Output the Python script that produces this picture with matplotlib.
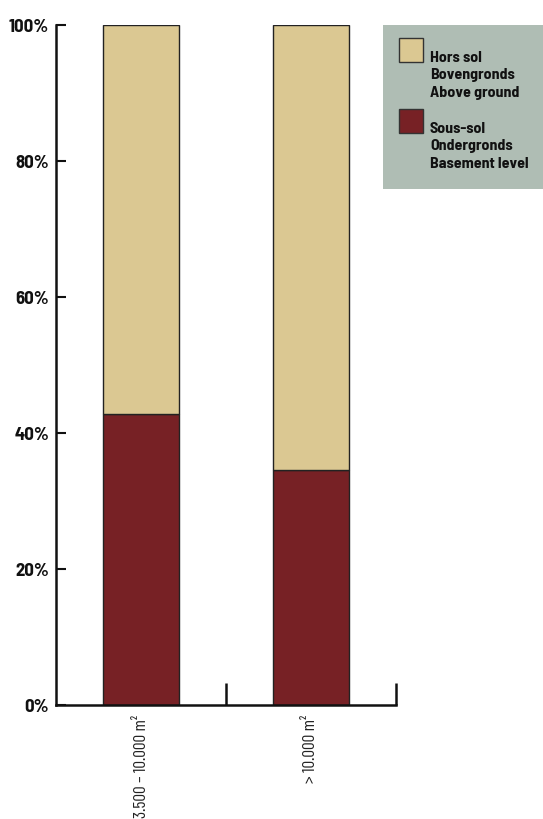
import matplotlib
matplotlib.use("Agg")
import matplotlib.pyplot as plt
from matplotlib.patches import Rectangle

categories = ["3.500 – 10.000 m²", "> 10.000 m²"]
basement = [42.8, 34.6]          # Sous-sol / Ondergronds / Basement level (%)
above = [100 - v for v in basement]  # Hors sol / Bovengronds / Above ground (%)
yticks = [0, 20, 40, 60, 80, 100]
ytick_labels = ["0%", "20%", "40%", "60%", "80%", "100%"]
legend_labels = ["Hors sol\nBovengronds\nAbove ground",
                 "Sous-sol\nOndergronds\nBasement level"]

c_above = "#dbc892"
c_base = "#772125"
c_legend_bg = "#afbdb4"
font_bold = ["Barlow Semi Condensed", "DejaVu Sans"]
font_light = ["Barlow Condensed", "DejaVu Sans"]

fig = plt.figure(figsize=(5.43, 8.19), dpi=100)
ax = fig.add_axes([56 / 543, 1 - 705 / 819, 340 / 543, 680 / 819])

pos = [0.5, 1.5]
ax.bar(pos, basement, width=0.45, color=c_base, edgecolor="#222222", linewidth=1.0, zorder=2)
ax.bar(pos, above, bottom=basement, width=0.45, color=c_above, edgecolor="#222222",
       linewidth=1.0, zorder=2)

ax.set_xlim(0, 2)
ax.set_ylim(0, 100)
for s in ["top", "right"]:
    ax.spines[s].set_visible(False)
for s in ["left", "bottom"]:
    ax.spines[s].set_linewidth(1.8)
    ax.spines[s].set_color("#111111")

ax.set_yticks(yticks)
ax.set_yticklabels(ytick_labels, fontfamily=font_bold, fontweight="bold", fontsize=13.5)
ax.tick_params(axis="y", direction="in", length=7, width=1.5, pad=5, colors="#111111")

# Upward group separators on the x axis
ax.set_xticks([1, 2])
ax.set_xticklabels([])
ax.tick_params(axis="x", direction="in", length=16, width=1.8, colors="#111111")

for x, lab in zip(pos, categories):
    ax.text(x, -1.5, lab, rotation=90, ha="center", va="top",
            fontfamily=font_light, fontweight="normal", fontsize=12.5, color="#222222")

# Legend panel
fig.patches.append(Rectangle((383 / 543, 1 - 189 / 819), 160 / 543, 164 / 819,
                             transform=fig.transFigure, facecolor=c_legend_bg,
                             edgecolor="none", zorder=0))
sq_tops = [38, 109]
for top, col, lab in zip(sq_tops, [c_above, c_base], legend_labels):
    fig.patches.append(Rectangle((399 / 543, 1 - (top + 24) / 819), 24 / 543, 24 / 819,
                                 transform=fig.transFigure, facecolor=col,
                                 edgecolor="#333333", linewidth=1.0))
    fig.text(430 / 543, 1 - (top + 13) / 819, lab, ha="left", va="top",
             fontfamily=font_bold, fontweight="bold", fontsize=11.5,
             linespacing=1.3, color="#111111")

fig.savefig("out.png", dpi=100)
